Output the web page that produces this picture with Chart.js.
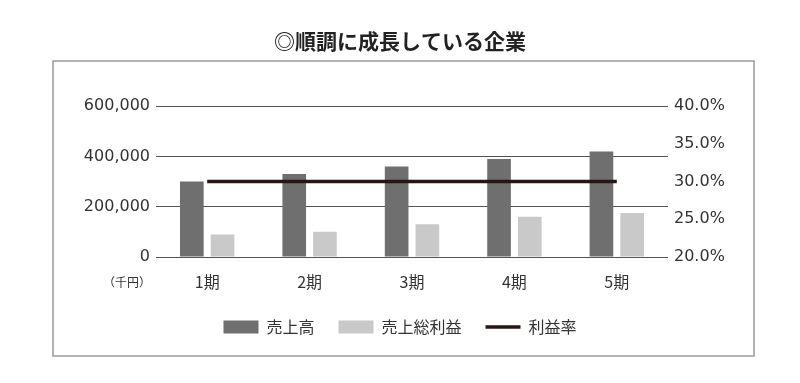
<!DOCTYPE html>
<html>
<head>
<meta charset="utf-8">
<script src="https://cdn.jsdelivr.net/npm/chart.js@4/dist/chart.umd.min.js"></script>
<style>
html,body{margin:0;padding:0;background:#fff;}
#wrap{position:relative;width:800px;height:383px;}
</style>
</head>
<body>
<div id="wrap"><canvas id="c" width="800" height="383"></canvas></div>
<script>
const titleText = '◎順調に成長している企業';
const categories = ['1期', '2期', '3期', '4期', '5期'];
const sales = [300000, 330000, 360000, 390000, 420000];
const grossProfit = [90000, 100000, 130000, 160000, 175000];
const profitRate = [30.0, 30.0, 30.0, 30.0, 30.0];
const seriesNames = ['売上高', '売上総利益', '利益率'];
const unitLabel = '（千円）';

const borderPlugin = {
  id: 'frame',
  beforeDraw(chart) {
    const ctx = chart.ctx;
    ctx.save();
    ctx.strokeStyle = '#9a9a9a';
    ctx.lineWidth = 1.5;
    ctx.strokeRect(53, 61, 701, 295);
    ctx.restore();
  },
  afterDraw(chart) {
    const ctx = chart.ctx;
    const area = chart.chartArea;
    ctx.save();
    ctx.fillStyle = '#333';
    ctx.font = '12px "Noto Sans CJK JP"';
    ctx.textAlign = 'center';
    ctx.textBaseline = 'middle';
    ctx.fillText(unitLabel, area.left - 29, area.bottom + 25);
    ctx.restore();
  }
};

new Chart(document.getElementById('c'), {
  data: {
    labels: categories,
    datasets: [
      { type: 'bar', label: seriesNames[0], data: sales, backgroundColor: '#6f6f6f', borderWidth: 0, yAxisID: 'y', order: 1, pointStyle: 'rect',
        categoryPercentage: 0.6, barPercentage: 0.77 },
      { type: 'bar', label: seriesNames[1], data: grossProfit, backgroundColor: '#c9c9c9', borderWidth: 0, yAxisID: 'y', order: 1, pointStyle: 'rect',
        categoryPercentage: 0.6, barPercentage: 0.77 },
      { type: 'line', label: seriesNames[2], data: profitRate, borderColor: '#231815', backgroundColor: '#231815', borderWidth: 3.5,
        pointRadius: 0, pointStyle: 'line', yAxisID: 'y1', order: 0, tension: 0 }
    ]
  },
  options: {
    responsive: false,
    animation: false,
    layout: { padding: { left: 0, right: 0, top: 0, bottom: 38 } },
    plugins: {
      title: {
        display: true, text: titleText, color: '#222',
        font: { family: '"Noto Sans CJK JP"', size: 21, weight: 'bold' },
        padding: { top: 28, bottom: 53 }
      },
      legend: {
        position: 'bottom',
        labels: {
          usePointStyle: true, pointStyleWidth: 35, boxHeight: 13, padding: 24,
          color: '#333', font: { family: '"Noto Sans CJK JP"', size: 16 },
          sort: (a, b) => a.datasetIndex - b.datasetIndex
        }
      },
      tooltip: { enabled: false }
    },
    scales: {
      x: {
        grid: { display: false, drawTicks: false },
        border: { display: false },
        ticks: { color: '#333', padding: 15, font: { family: '"Noto Sans CJK JP"', size: 16 } },
        afterFit(s) { s.height = 38; }
      },
      y: {
        position: 'left', min: 0, max: 600000,
        grid: { color: '#555', lineWidth: 1, drawTicks: false },
        border: { display: false },
        ticks: { stepSize: 200000, padding: 6, color: '#333', font: { family: '"DejaVu Sans"', size: 16 },
          callback: v => v.toLocaleString('en-US') },
        afterFit(s) { s.width = 156; }
      },
      y1: {
        position: 'right', min: 20, max: 40,
        grid: { display: false, drawTicks: false },
        border: { display: false },
        ticks: { stepSize: 5, padding: 6, color: '#333', font: { family: '"DejaVu Sans"', size: 16 },
          callback: v => v.toFixed(1) + '%' },
        afterFit(s) { s.width = 132; }
      }
    }
  },
  plugins: [borderPlugin]
});
</script>
</body>
</html>
